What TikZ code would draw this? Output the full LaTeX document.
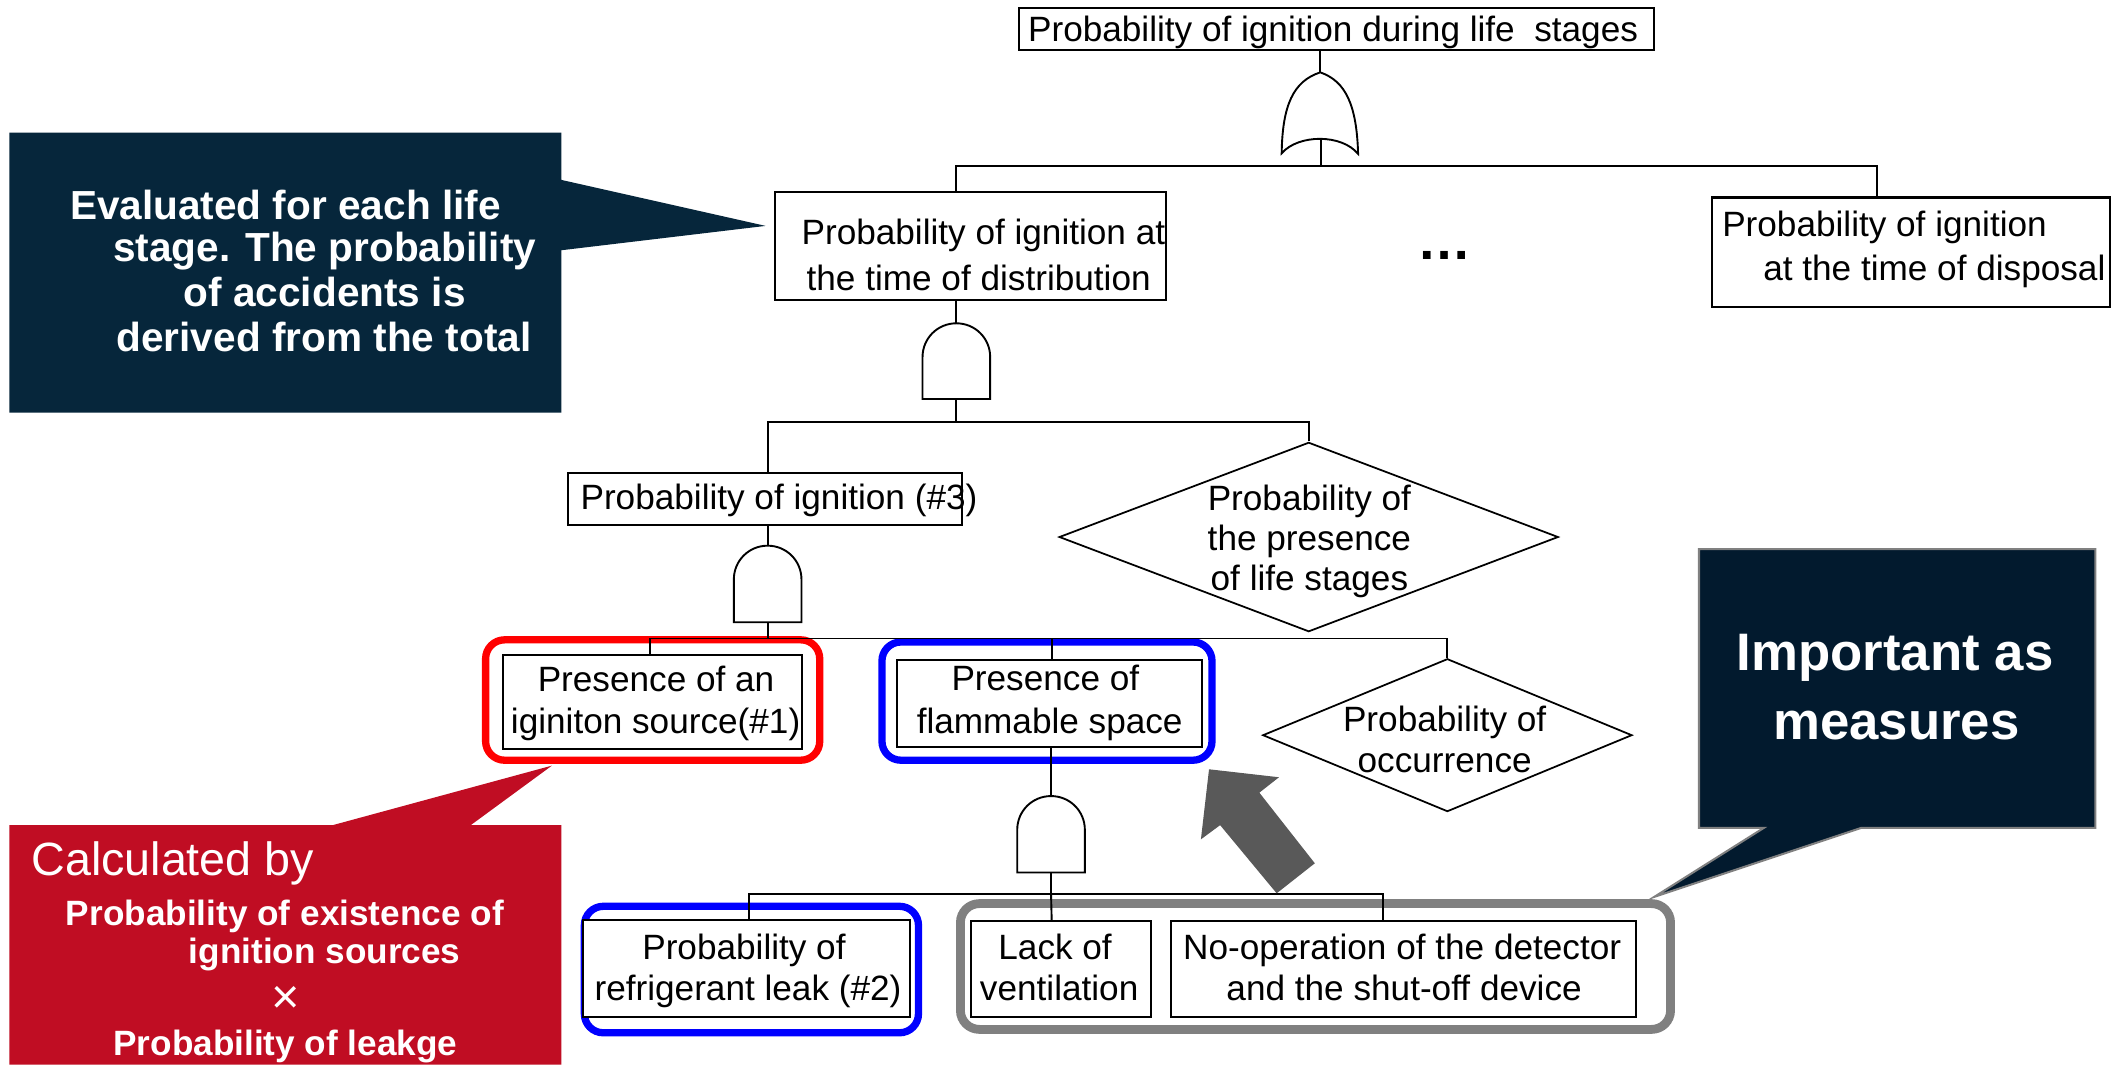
\documentclass[tikz,border=0pt]{standalone}
\usepackage{fontspec}
\setmainfont{Liberation Sans}
\usetikzlibrary{shapes.geometric}
\definecolor{navyA}{HTML}{06263B}
\definecolor{navyB}{HTML}{021A2E}
\definecolor{calred}{HTML}{C00D23}
\definecolor{arrowgray}{HTML}{595959}
\definecolor{framegray}{HTML}{808080}
\definecolor{frameblue}{HTML}{0000FF}
\definecolor{framered}{HTML}{FF0000}
\tikzset{
  box/.style={draw, line width=1.5pt, rectangle, inner sep=0pt, fill=white},
  dia/.style={draw, line width=1.3pt, diamond, inner sep=0pt, fill=white},
  conn/.style={line width=1.4pt},
  gate/.style={draw, line width=1.4pt, fill=white},
  lbl/.style={inner sep=0pt, anchor=base, font=\fontsize{26}{31}\selectfont},
  hframe/.style={draw, line width=5.4pt, rounded corners=14pt, inner sep=0pt, rectangle},
  cbA/.style={inner sep=0pt, anchor=base, text=white, font=\bfseries\fontsize{30}{36}\selectfont},
  cbB/.style={inner sep=0pt, anchor=base, text=white, font=\bfseries\fontsize{39}{46}\selectfont},
  cbC/.style={inner sep=0pt, anchor=base, text=white, font=\bfseries\fontsize{26}{31}\selectfont},
}
\newcommand\AndGate[3]{%
  \filldraw[gate] (#1-25,#3) -- (#1-25,#2+25) .. controls (#1-25,#2+11) and (#1-13.8,#2) .. (#1,#2)
   .. controls (#1+13.8,#2) and (#1+25,#2+11) .. (#1+25,#2+25) -- (#1+25,#3) -- cycle;}
\begin{document}
\begin{tikzpicture}[x=1pt,y=-1pt]
\useasboundingbox (0,0) rectangle (1568,787);
\fill[white] (0,0) rectangle (1568,787);

% ---------- callouts ----------
\fill[navyA] (7,98) -- (415,98) -- (415,133) -- (566,167) -- (415,185) -- (415,305) -- (7,305) -- cycle;
\node[cbA] (ca1) at (211,162) {Evaluated for each life};
\node[cbA] (ca2) at (240,193.5) {stage. The probability};
\node[cbA] (ca3) at (240,226.5) {of accidents is};
\node[cbA] (ca4) at (239.5,260) {derived from the total};

\filldraw[fill=navyB, draw=framegray, line width=1.5pt] (1256,406) -- (1549,406) -- (1549,612) -- (1376,612) -- (1223,663) -- (1304,612) -- (1256,612) -- cycle;
\node[cbB] (cb1) at (1401,495.5) {Important as};
\node[cbB] (cb2) at (1402,546.5) {measures};

\fill[calred] (7,610) -- (246,610) -- (408,566) -- (348,610) -- (415,610) -- (415,787) -- (7,787) -- cycle;
\node[inner sep=0pt, anchor=base west, text=white, font=\fontsize{34.5}{40}\selectfont] (cc0) at (23,647) {Calculated by};
\node[cbC] (cc1) at (210.6,684) {Probability of existence of};
\node[cbC] (cc2) at (240,712.5) {ignition sources};
\node[inner sep=0pt, text=white, font=\fontsize{36}{40}\selectfont] (cc3) at (211,739) {×};
\node[cbC] (cc4) at (211,780.5) {Probability of leakge};

% ---------- highlight frames ----------
\node[hframe, draw=framered, minimum width=247pt, minimum height=89pt] (fr1) at (482.5,517.5) {};
\node[hframe, draw=frameblue, minimum width=244pt, minimum height=87.4pt] (fr2) at (774,518.3) {};
\node[hframe, draw=frameblue, minimum width=247pt, minimum height=93.5pt] (fr3) at (555.5,716.75) {};
\node[hframe, draw=framegray, line width=6.5pt, minimum width=525pt, minimum height=93pt] (fr4) at (972.5,714.5) {};

% ---------- gate coordinates ----------
\coordinate (ort) at (976,53.5);
\coordinate (orb) at (976.5,102.8);
\coordinate (g1t) at (707,239);   \coordinate (g1b) at (707,295);
\coordinate (g2t) at (567.5,403.4); \coordinate (g2b) at (567.5,460);
\coordinate (g3t) at (777,588.5); \coordinate (g3b) at (777,645);
\coordinate (j1) at (976.5,122.7);
\coordinate (j2) at (707,311.7);
\coordinate (j3) at (567.5,472);
\coordinate (j4) at (777,661);
\coordinate (b2in) at (707,142);
\coordinate (b3in) at (1387.4,146);
\coordinate (b4in) at (567.5,350);
\coordinate (b5in) at (480.5,484);
\coordinate (b6in) at (778,488);
\coordinate (b7in) at (554,680);
\coordinate (b8in) at (777.5,681);
\coordinate (b9in) at (1022.6,681);

% ---------- boxes ----------
\node[box, minimum width=470pt, minimum height=31pt] (b1) at (988,21.5) {};
\node[box, minimum width=289pt, minimum height=80pt] (b2) at (717.5,182) {};
\node[box, minimum width=294.5pt, minimum height=81pt] (b3) at (1412.75,186.5) {};
\node[box, minimum width=291pt, minimum height=38pt] (b4) at (565.5,369) {};
\node[box, minimum width=221pt, minimum height=70pt] (b5) at (482.5,519) {};
\node[box, minimum width=225.6pt, minimum height=64pt] (b6) at (775.8,520) {};
\node[box, minimum width=242pt, minimum height=72pt] (b7) at (552,716) {};
\node[box, minimum width=133pt, minimum height=71pt] (b8) at (784.5,716.5) {};
\node[box, minimum width=343.5pt, minimum height=71pt] (b9) at (1037.75,716.5) {};
\node[dia, minimum width=369pt, minimum height=140pt] (d1) at (967.5,397) {};
\node[dia, minimum width=273pt, minimum height=113pt] (d2) at (1070,543.5) {};

% ---------- connectors ----------
\draw[conn] (b1.south -| ort) -- (ort);
\draw[conn] (orb) -- (j1);
\draw[conn] (j1) -| (b2in);
\draw[conn] (j1) -| (b3in);
\draw[conn] (b2.south -| g1t) -- (g1t);
\draw[conn] (g1b) -- (j2);
\draw[conn] (j2) -| (b4in);
\draw[conn] (j2) -| (d1.north);
\draw[conn] (b4.south -| g2t) -- (g2t);
\draw[conn] (g2b) -- (j3);
\draw[conn] (j3) -| (b5in);
\draw[conn] (j3) -| (b6in);
\draw[conn] (j3) -| (d2.north);
\draw[conn] (b6.south -| g3t) -- (g3t);
\draw[conn] (g3b) -- (j4);
\draw[conn] (j4) -| (b7in);
\draw[conn] (j4) -- (b8in);
\draw[conn] (j4) -| (b9in);

% ---------- gates ----------
\filldraw[gate] (ort) .. controls (956,60) and (948,78) .. (947.5,113.3)
  .. controls (960,99) and (992,99) .. (1004,113.8)
  .. controls (1003,78) and (995,60) .. (ort) -- cycle;
\AndGate{707}{239}{295}
\AndGate{567.5}{403.4}{460}
\AndGate{777}{588.5}{645}

% ---------- texts ----------
\node[lbl] (t1) at (985.5,31) {Probability of ignition during life\ \ stages};
\node[lbl] (t2a) at (727,181) {Probability of ignition at};
\node[lbl] (t2b) at (723.5,214.5) {the time of distribution};
\node[lbl, anchor=base west] (t3a) at (1273,175) {Probability of ignition};
\node[lbl] (t3b) at (1430,207) {at the time of disposal};
\node[inner sep=0pt, font=\bfseries\fontsize{40}{44}\selectfont] (dots) at (1068,189) {…};
\node[lbl, anchor=base west] (t4) at (429,377) {Probability of ignition (\#3)};
\node[lbl] (td1a) at (968,377.5) {Probability of};
\node[lbl] (td1b) at (968,407) {the presence};
\node[lbl] (td1c) at (968,436.5) {of life stages};
\node[lbl] (t5a) at (485,511) {Presence of an};
\node[lbl] (t5b) at (484.7,542) {iginiton source(\#1)};
\node[lbl] (t6a) at (772.8,510.5) {Presence of};
\node[lbl] (t6b) at (776,542) {flammable space};
\node[lbl] (td2a) at (1068,540.5) {Probability of};
\node[lbl] (td2b) at (1068,571) {occurrence};
\node[lbl] (t7a) at (550,709) {Probability of};
\node[lbl] (t7b) at (553,739.5) {refrigerant leak (\#2)};
\node[lbl] (t8a) at (780,709) {Lack of};
\node[lbl] (t8b) at (783,739.5) {ventilation};
\node[lbl] (t9a) at (1036.6,709) {No-operation of the detector};
\node[lbl] (t9b) at (1038,739.5) {and the shut-off device};

% ---------- block arrow ----------
\fill[arrowgray] (893.8,568.7) -- (945.5,574.6) -- (931,586) -- (972,638.2) -- (943.8,660.4) -- (902,610) -- (887.8,620.5) -- cycle;
\end{tikzpicture}
\end{document}
